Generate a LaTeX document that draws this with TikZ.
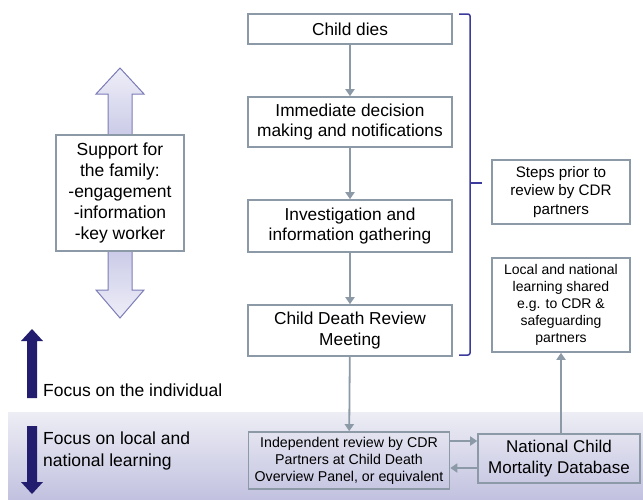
\documentclass[tikz,border=0pt]{standalone}
\usepackage{fontspec}
\setmainfont{Liberation Sans}
\usetikzlibrary{arrows.meta}
\definecolor{boxgray}{HTML}{8C9AA8}
\definecolor{navy}{HTML}{221D6E}
\definecolor{bracecol}{HTML}{3C3A9A}
\definecolor{lavout}{HTML}{7C7CB8}
\definecolor{lavlight}{HTML}{EEEEF8}
\definecolor{lavmid}{HTML}{ADADDA}
\definecolor{bandtop}{HTML}{EDEDF5}
\definecolor{bandbot}{HTML}{C2C2E0}
\begin{document}
\begin{tikzpicture}[x=1pt,y=-1pt,
  box/.style={draw=boxgray, line width=1.6pt, align=center, inner sep=0pt},
  wbox/.style={box, fill=white},
  flow/.style={draw=boxgray, line width=1.8pt, -{Triangle[length=7pt,width=9pt]}},
  big/.style={font=\fontsize{17.3}{20.5}\selectfont},
  lbl/.style={font=\fontsize{17.5}{22}\selectfont, align=left, inner sep=0pt}
]
\useasboundingbox (0,0) rectangle (643,499);
% band
\shade[top color=bandtop, bottom color=bandbot] (8,412) rectangle (643,499);

% double arrow
\shade[draw=lavout, line width=1pt, top color=lavlight, bottom color=lavlight, middle color=lavmid]
  (108,94) -- (96,94) -- (120,68) -- (144,94) -- (132,94) -- (132,290) -- (144,290)
  -- (120,318) -- (96,290) -- (108,290) -- cycle;
\node[wbox, font=\fontsize{17.5}{21}\selectfont, minimum width=128pt, minimum height=116pt] (support) at (120,193)
  {Support for\\the family:\\-engagement\\-information\\-key worker};

% dark arrows
\fill[navy] (27,398) -- (27,341) -- (21,341) -- (32,329) -- (43,341) -- (37,341) -- (37,398) -- cycle;
\fill[navy] (27,426) -- (27,482) -- (21,482) -- (32,494) -- (43,482) -- (37,482) -- (37,426) -- cycle;
\node[lbl, anchor=west] (indiv) at (43,390) {Focus on the individual};
\node[lbl, anchor=north west] (learn) at (43,431.5) {Focus on local and\\national learning};

% flow boxes
\node[wbox, big, minimum width=204pt, minimum height=30pt] (dies) at (350,29) {Child dies};
\node[wbox, big, minimum width=204pt, minimum height=50pt] (imm) at (350,122) {Immediate decision\\making and notifications};
\node[wbox, big, minimum width=204pt, minimum height=52pt] (inv) at (350,226) {Investigation and\\information gathering};
\node[wbox, big, minimum width=204pt, minimum height=51pt] (cdrm) at (350,330.5) {Child Death Review\\Meeting};
\node[box, font=\fontsize{14.2}{17}\selectfont, minimum width=201pt, minimum height=57pt] (indep) at (349,460.5) {Independent review by CDR\\Partners at Child Death\\Overview Panel, or equivalent};
\node[box, font=\fontsize{17}{21}\selectfont, minimum width=162pt, minimum height=49pt] (ncmd) at (559,458.5) {National Child\\Mortality Database};
\node[wbox, font=\fontsize{15.2}{18.5}\selectfont, minimum width=138pt, minimum height=64pt] (steps) at (561,192) {Steps prior to\\review by CDR\\partners};
\node[wbox, font=\fontsize{14}{17}\selectfont, minimum width=138pt, minimum height=94pt] (local) at (561,305) {Local and national\\learning shared\\e.g. to CDR \&\\safeguarding\\partners};

\draw[flow] (dies) -- (imm);
\draw[flow] (imm) -- (inv);
\draw[flow] (inv) -- (cdrm);
\draw[flow] (cdrm) -- (indep);
\draw[flow] (ncmd.north -| local.south) -- (local.south);
\draw[flow] ([yshift=19.5pt]indep.east) -- ([yshift=19.5pt]indep.east -| ncmd.west);
\draw[flow] ([yshift=-9.5pt]ncmd.west) -- ([yshift=-9.5pt]ncmd.west -| indep.east);

% brace
\draw[bracecol, line width=1.5pt, rounded corners=2pt] (459,14) -- (470,14) -- (470,355) -- (459,355);
\draw[bracecol, line width=1.5pt] (470,183) -- (482,183);
\end{tikzpicture}
\end{document}
